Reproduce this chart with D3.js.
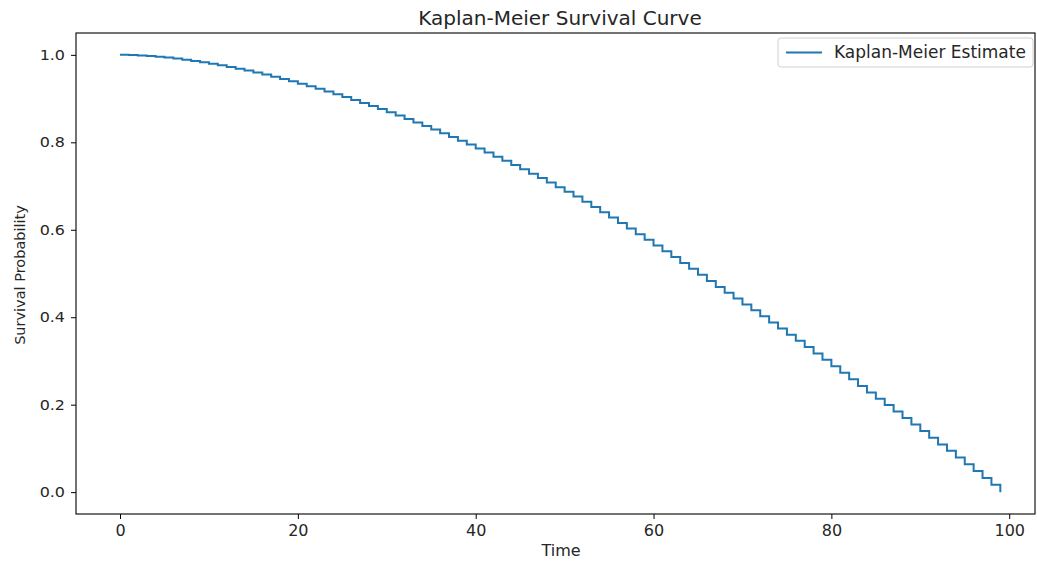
<!DOCTYPE html>
<html>
<head>
<meta charset="utf-8">
<script src="https://cdn.jsdelivr.net/npm/d3@7"></script>
<style>
  html, body { margin: 0; padding: 0; background: #fff; }
  svg { display: block; font-family: "DejaVu Sans", sans-serif; }
</style>
</head>
<body>
<svg id="chart" width="1037" height="561"></svg>
<script>
const chartTitle = "Kaplan-Meier Survival Curve";
const xLabel = "Time";
const yLabel = "Survival Probability";
const seriesName = "Kaplan-Meier Estimate";
const xTicks = [0, 20, 40, 60, 80, 100];
const yTicks = [0.0, 0.2, 0.4, 0.6, 0.8, 1.0];

const times = [0,1,2,3,4,5,6,7,8,9,10,11,12,13,14,15,16,17,18,19,20,21,22,23,24,25,26,27,28,29,30,31,32,33,34,35,36,37,38,39,40,41,42,43,44,45,46,47,48,49,50,51,52,53,54,55,56,57,58,59,60,61,62,63,64,65,66,67,68,69,70,71,72,73,74,75,76,77,78,79,80,81,82,83,84,85,86,87,88,89,90,91,92,93,94,95,96,97,98,99];
const survival = [1.000,0.9996,0.9987,0.9974,0.9957,0.9938,0.9915,0.9889,0.9861,0.9830,
  0.9797,0.9761,0.9723,0.9683,0.9640,0.9596,0.9549,0.9500,0.9449,0.9396,
  0.9341,0.9284,0.9225,0.9164,0.9101,0.9036,0.8970,0.8902,0.8832,0.8760,
  0.8686,0.8611,0.8534,0.8455,0.8375,0.8293,0.8209,0.8123,0.8036,0.7948,
  0.7857,0.7765,0.7672,0.7577,0.7480,0.7382,0.7283,0.7182,0.7079,0.6975,
  0.6869,0.6762,0.6643,0.6523,0.6401,0.6278,0.6153,0.6027,0.5900,0.5771,
  0.5642,0.5510,0.5377,0.5242,0.5107,0.4969,0.4831,0.4690,0.4559,0.4426,
  0.4292,0.4157,0.4021,0.3882,0.3743,0.3602,0.3461,0.3317,0.3173,0.3027,
  0.2879,0.2731,0.2581,0.2429,0.2277,0.2134,0.1990,0.1843,0.1696,0.1547,
  0.1396,0.1246,0.1092,0.0949,0.0794,0.0638,0.0481,0.0321,0.0171,0.0000];

const data = times.map((t, i) => ({ t, s: survival[i] }));

const svg = d3.select("#chart");
const L = 76, R = 1035, T = 33, B = 514;
const textColor = "#262626";

const x = d3.scaleLinear().domain([-4.95, 102.9]).range([L, R]);
const y = d3.scaleLinear().domain([-0.05, 1.05]).range([B, T]);

// axes
const xAxis = svg.append("g").attr("transform", `translate(0,${B})`)
  .call(d3.axisBottom(x).tickValues(xTicks).tickFormat(d3.format("d")).tickSizeOuter(0).tickSize(5).tickPadding(6));
const yAxis = svg.append("g").attr("transform", `translate(${L},0)`)
  .call(d3.axisLeft(y).tickValues(yTicks).tickFormat(d3.format(".1f")).tickSizeOuter(0).tickSize(5).tickPadding(5));
[xAxis, yAxis].forEach(a => {
  a.select(".domain").remove();
  a.selectAll(".tick line").attr("stroke", "#000").attr("stroke-width", 1);
  a.selectAll(".tick text").attr("fill", textColor).style("font-family", "DejaVu Sans");
});
xAxis.selectAll(".tick text").style("font-size", "16px");
yAxis.selectAll(".tick text").style("font-size", "14.5px").attr("transform", "scale(1.1,1)");

// frame
svg.append("rect").attr("x", L).attr("y", T).attr("width", R - L).attr("height", B - T)
  .attr("fill", "none").attr("stroke", "#000").attr("stroke-width", 1.1);

// curve
const line = d3.line().x(d => x(d.t)).y(d => y(d.s)).curve(d3.curveStepAfter);
svg.append("path").datum(data).attr("d", line)
  .attr("fill", "none").attr("stroke", "#1f77b4").attr("stroke-width", 2);

// title and labels
svg.append("text").attr("x", 560).attr("y", 25).attr("text-anchor", "middle")
  .attr("fill", textColor).style("font-size", "20px").text(chartTitle);
svg.append("text").attr("x", 561).attr("y", 556).attr("text-anchor", "middle")
  .attr("fill", textColor).style("font-size", "16px").text(xLabel);
svg.append("text").attr("transform", `translate(25,275) rotate(-90)`).attr("text-anchor", "middle")
  .attr("fill", textColor).style("font-size", "14.5px").text(yLabel);

// legend
const lg = svg.append("g");
lg.append("rect").attr("x", 778).attr("y", 38).attr("width", 255).attr("height", 29).attr("rx", 3)
  .attr("fill", "#fff").attr("fill-opacity", 0.8).attr("stroke", "#d0d0d0");
lg.append("line").attr("x1", 786).attr("x2", 822).attr("y1", 52.5).attr("y2", 52.5)
  .attr("stroke", "#1f77b4").attr("stroke-width", 2);
lg.append("text").attr("x", 834).attr("y", 58).attr("fill", textColor).style("font-size", "17px").text(seriesName);
</script>
</body>
</html>
